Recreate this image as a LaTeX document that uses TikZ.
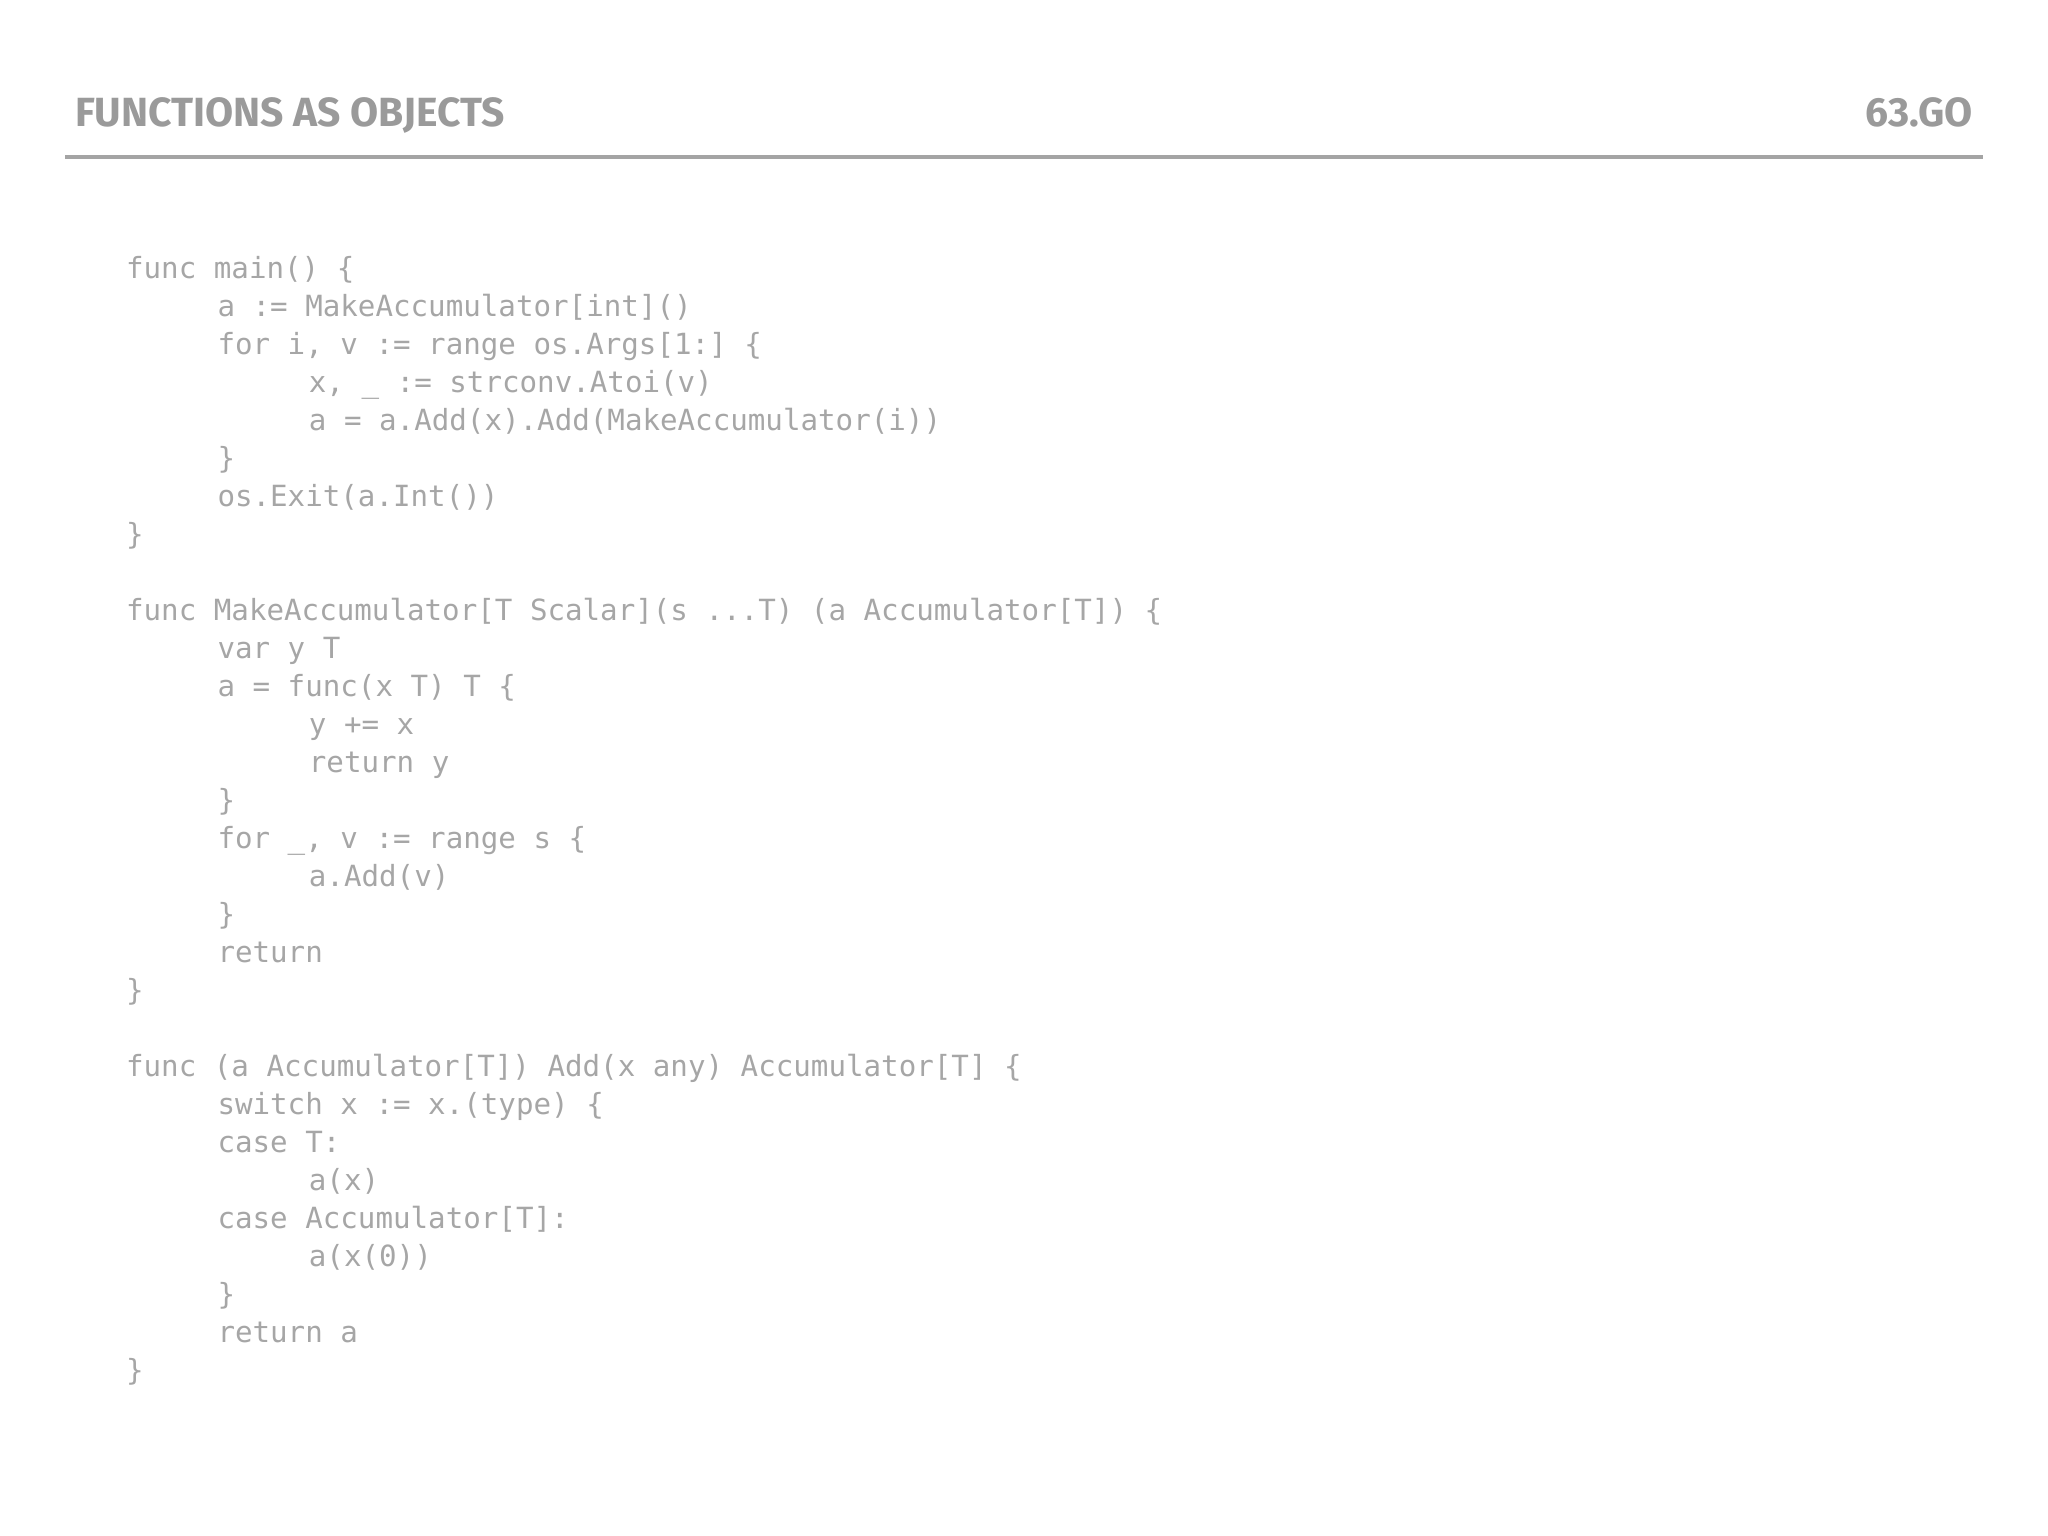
\documentclass[tikz,border=0pt]{standalone}
\usepackage{fontspec}
\setmainfont{Fira Sans}
\setmonofont{DejaVu Sans Mono}
\definecolor{tx}{HTML}{A6A6A6}
\definecolor{ttl}{HTML}{9A9A9A}
\begin{document}
\begin{tikzpicture}[x=1cm,y=1cm,
  code/.style={anchor=west,inner sep=0,text=tx,font=\ttfamily\fontsize{8.3pt}{10pt}\selectfont,text height=1.6ex,text depth=.4ex},
  ttlstyle/.style={inner sep=0,text=ttl,font=\fontsize{11.6pt}{13pt}\selectfont\bfseries}]
\useasboundingbox (0,0) rectangle (20.48,-15.36);
\node[ttlstyle,anchor=base west] (title) at (0.744,-1.267) {FUNCTIONS AS OBJECTS};
\node[ttlstyle,anchor=base east] (num) at (19.735,-1.267) {63.GO};
\coordinate (r1) at (0.653,-1.567);
\coordinate (r2) at (19.827,-1.567);
\draw[ttl!90,line width=1.1pt] (r1) -- (r2);
\def\dy{0.3797}
\def\yo{-2.678}
\def\xa{1.254}\def\xb{2.168}\def\xc{3.082}
\node[code] (l0) at (\xa,\yo) {func main() \{};
\node[code] (l1) at (\xb,\yo-1*\dy) {a := MakeAccumulator[int]()};
\node[code] (l2) at (\xb,\yo-2*\dy) {for i, v := range os.Args[1:] \{};
\node[code] (l3) at (\xc,\yo-3*\dy) {x, \_ := strconv.Atoi(v)};
\node[code] (l4) at (\xc,\yo-4*\dy) {a = a.Add(x).Add(MakeAccumulator(i))};
\node[code] (l5) at (\xb,\yo-5*\dy) {\}};
\node[code] (l6) at (\xb,\yo-6*\dy) {os.Exit(a.Int())};
\node[code] (l7) at (\xa,\yo-7*\dy) {\}};
\node[code] (l9) at (\xa,\yo-9*\dy) {func MakeAccumulator[T Scalar](s ...T) (a Accumulator[T]) \{};
\node[code] (l10) at (\xb,\yo-10*\dy) {var y T};
\node[code] (l11) at (\xb,\yo-11*\dy) {a = func(x T) T \{};
\node[code] (l12) at (\xc,\yo-12*\dy) {y += x};
\node[code] (l13) at (\xc,\yo-13*\dy) {return y};
\node[code] (l14) at (\xb,\yo-14*\dy) {\}};
\node[code] (l15) at (\xb,\yo-15*\dy) {for \_, v := range s \{};
\node[code] (l16) at (\xc,\yo-16*\dy) {a.Add(v)};
\node[code] (l17) at (\xb,\yo-17*\dy) {\}};
\node[code] (l18) at (\xb,\yo-18*\dy) {return};
\node[code] (l19) at (\xa,\yo-19*\dy) {\}};
\node[code] (l21) at (\xa,\yo-21*\dy) {func (a Accumulator[T]) Add(x any) Accumulator[T] \{};
\node[code] (l22) at (\xb,\yo-22*\dy) {switch x := x.(type) \{};
\node[code] (l23) at (\xb,\yo-23*\dy) {case T:};
\node[code] (l24) at (\xc,\yo-24*\dy) {a(x)};
\node[code] (l25) at (\xb,\yo-25*\dy) {case Accumulator[T]:};
\node[code] (l26) at (\xc,\yo-26*\dy) {a(x(0))};
\node[code] (l27) at (\xb,\yo-27*\dy) {\}};
\node[code] (l28) at (\xb,\yo-28*\dy) {return a};
\node[code] (l29) at (\xa,\yo-29*\dy) {\}};
\end{tikzpicture}
\end{document}
